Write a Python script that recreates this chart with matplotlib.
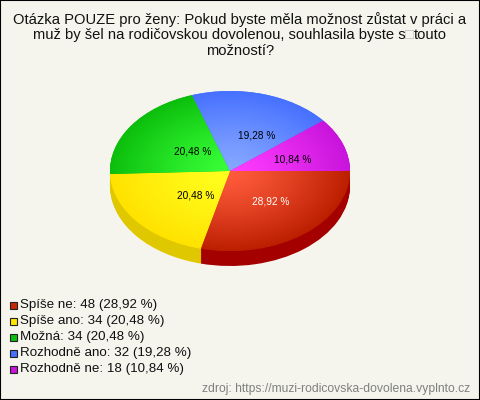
#!/usr/bin/env python3

import matplotlib
matplotlib.use('Agg')
import matplotlib.pyplot as plt
import matplotlib.patches as mpatches
import numpy as np

W, H = 480, 400

# -- data -- #
title_line1 = 'Otázka POUZE pro ženy: Pokud byste měla možnost zůstat v práci a'
title_line2a = 'muž by šel na rodičovskou dovolenou, souhlasila byste s'
title_box = '\u25a1'
title_line2b = 'touto'
title_line3 = 'možností?'
categories = ['Spíše ne', 'Spíše ano', 'Možná', 'Rozhodně ano', 'Rozhodně ne']
counts = [48, 34, 34, 32, 18]
percents = ['28,92 %', '20,48 %', '20,48 %', '19,28 %', '10,84 %']
source = 'zdroj: https://muzi-rodicovska-dovolena.vyplnto.cz'

# -- styles -- #
center_colors = ['#ff5c3c', '#ffff1e', '#38ff38', '#86a8ff', '#ff3cff']
edge_colors = ['#bc1e00', '#ffe200', '#0cbe0c', '#4670ff', '#c814dc']
side_colors = ['#a50000', '#e0c800', '#0a9a0a', '#3050c0', '#a010b0']
legend_colors = ['#c82800', '#ffe600', '#0cbe0c', '#4670ff', '#c814dc']
label_colors = ['white', 'black', 'black', 'black', 'black']
label_pos = [(270.5, 201.5), (195.7, 195), (192.7, 151.7), (256.7, 135), (292.7, 159)]
bg = '#f5f5ee'

CX, CY, RX, RY, DEPTH = 230, 171, 120, 80, 15


def px(x, y):
    # pixel position to data units of the pie axes
    return (x - CX) / RX, (CY - y) / RY


def hex_rgb(c):
    return np.array(matplotlib.colors.to_rgb(c))


fig = plt.figure(figsize=(W / 100, H / 100), dpi=100, facecolor=bg)
plt.rcParams['font.family'] = ['Liberation Sans', 'DejaVu Sans']
ax = fig.add_axes([0, 0, 1, 1])
ax.axis('off')

# side of the pie, stacked from the bottom up
for d in range(DEPTH, 0, -1):
    ax.pie(
        counts,
        colors=side_colors,
        startangle=0,
        counterclock=False,
        center=(0, -d / RY),
        radius=1,
        frame=True,
    )

wedges, _ = ax.pie(
    counts,
    colors=edge_colors,
    startangle=0,
    counterclock=False,
    center=(0, 0),
    radius=1,
    frame=True,
)

# radial shading on the top face
gx, gy = np.meshgrid(np.linspace(-1, 1, 300), np.linspace(-1, 1, 300))
t = np.clip(np.sqrt(gx ** 2 + gy ** 2), 0, 1)[..., None] ** 1.25
for wedge, c0, c1 in zip(wedges, center_colors, edge_colors):
    img = hex_rgb(c0) * (1 - t) + hex_rgb(c1) * t
    im = ax.imshow(img, extent=(-1, 1, -1, 1), origin='lower', zorder=3,
                   aspect='auto', interpolation='bilinear')
    im.set_clip_path(wedge)

ax.set_aspect('auto')
ax.set_xlim(px(0, 0)[0], px(W, 0)[0])
ax.set_ylim(px(0, H)[1], px(0, 0)[1])

for text, color, (x, y) in zip(percents, label_colors, label_pos):
    ax.text(*px(x, y), text, color=color, fontsize=7.3, ha='center', va='center', zorder=5)

# title
title_style = dict(fontsize=10.65, color='#111111', va='center', zorder=5)
ax.text(*px(240, 20), title_line1, ha='center', **title_style)
ax.text(*px(405.5, 35), title_line2a, ha='right', **title_style)
ax.text(*px(409.5, 35), title_box, ha='center', fontsize=10.65, color='#b8b8b8', va='center', zorder=5)
ax.text(*px(413.5, 35), title_line2b, ha='left', **title_style)
ax.text(*px(240, 51), title_line3, ha='center', **title_style)

# legend
for i, (cat, n, p, c) in enumerate(zip(categories, counts, percents, legend_colors)):
    y = 305 + i * 16
    x0, y0 = px(9.5, y + 3.5)
    x1, y1 = px(16.5, y - 3.5)
    ax.add_patch(mpatches.Rectangle(
        (x0, y0), x1 - x0, y1 - y0,
        facecolor=c,
        edgecolor='#222222',
        linewidth=0.8,
        zorder=5,
    ))
    ax.text(*px(20, y), f'{cat}: {n} ({p})', fontsize=9.6, color='#111111',
            ha='left', va='center', zorder=5)

ax.text(*px(470, 389), source, fontsize=8.7, color='#808080', ha='right', va='center', zorder=5)

# outer frame
fig.add_artist(mpatches.Rectangle(
    (0, 0), 1, 1,
    transform=fig.transFigure,
    fill=False,
    edgecolor='black',
    linewidth=1.5,
))

fig.savefig('out.png', dpi=100, facecolor=bg)
plt.close()
